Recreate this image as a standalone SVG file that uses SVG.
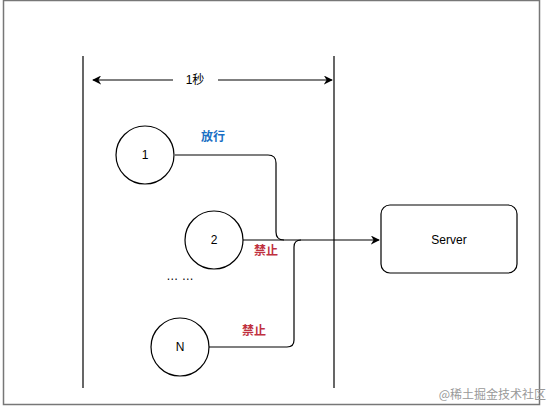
<svg xmlns="http://www.w3.org/2000/svg" width="548" height="409" viewBox="0 0 548 409">
<defs>
<marker id="ah" viewBox="0 0 10 10" refX="9" refY="5" markerWidth="9" markerHeight="9" markerUnits="userSpaceOnUse" orient="auto-start-reverse">
<path d="M0,0 L10,5 L0,10 L3,5 Z" fill="#000"/>
</marker>
<style>
.ln{fill:none;stroke:#000;stroke-width:1.2}
.nd{fill:#fff;stroke:#000;stroke-width:1.2}
.t{font-family:"Liberation Sans","Noto Sans CJK SC",sans-serif;font-size:12px;fill:#000;text-anchor:middle;dominant-baseline:central}
.blue{fill:#1a6fc4;font-weight:bold}
.red{fill:#c0313f;font-weight:bold}
</style>
</defs>
<rect x="0" y="0" width="548" height="409" fill="#fff"/>
<rect x="3.5" y="0.5" width="536" height="404" fill="none" stroke="#777" stroke-width="1.5"/>
<g id="connectors">
<line class="ln" x1="83" y1="56" x2="83" y2="388"/>
<line class="ln" x1="334" y1="56" x2="334" y2="388"/>
<line class="ln" x1="173" y1="80" x2="93" y2="80" marker-end="url(#ah)"/>
<line class="ln" x1="218" y1="80" x2="332" y2="80" marker-end="url(#ah)"/>
<path class="ln" d="M175,155 H268 Q276,155 276,163 V232 Q276,240 284,240"/>
<path class="ln" d="M243,240 H379" marker-end="url(#ah)"/>
<path class="ln" d="M209,347 H287 Q294,347 294,340 V247 Q294,240 301,240"/>
</g>
<text class="t" x="195" y="80">1秒</text>
<text class="t blue" x="213" y="137">放行</text>
<text class="t red" x="266" y="251">禁止</text>
<text class="t red" x="254" y="331">禁止</text>
<text class="t" x="180" y="276">… …</text>
<g id="node1"><circle class="nd" cx="145" cy="155" r="29"/><text class="t" x="145" y="155">1</text></g>
<g id="node2"><circle class="nd" cx="214" cy="240" r="29"/><text class="t" x="214" y="240">2</text></g>
<g id="nodeN"><circle class="nd" cx="180" cy="347" r="29"/><text class="t" x="180" y="347">N</text></g>
<g id="server"><rect class="nd" x="381" y="205" width="136" height="68" rx="9"/><text class="t" x="449" y="240">Server</text></g>
<text x="546" y="399" font-family="'Noto Sans CJK SC',sans-serif" font-size="12" fill="#999" text-anchor="end">@稀土掘金技术社区</text>
</svg>
